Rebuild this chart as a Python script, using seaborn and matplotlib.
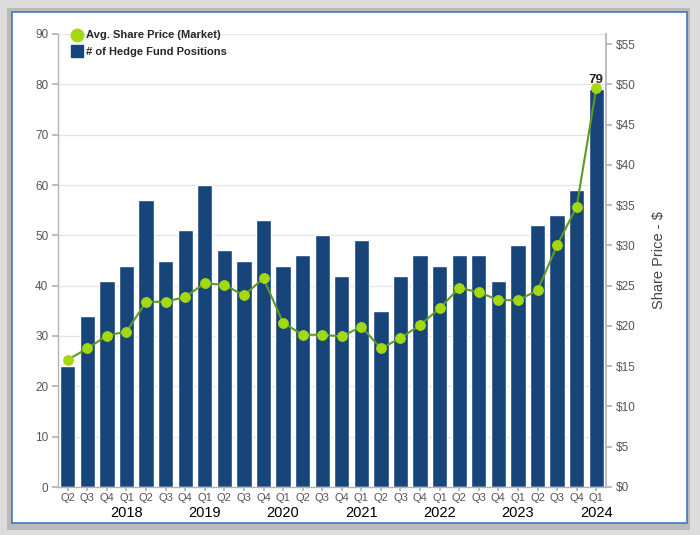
import numpy as np
import pandas as pd
import seaborn as sns
import matplotlib.pyplot as plt
from matplotlib.patches import Rectangle
from matplotlib.lines import Line2D

# data
quarters = ["Q2", "Q3", "Q4",
            "Q1", "Q2", "Q3", "Q4",
            "Q1", "Q2", "Q3", "Q4",
            "Q1", "Q2", "Q3", "Q4",
            "Q1", "Q2", "Q3", "Q4",
            "Q1", "Q2", "Q3", "Q4",
            "Q1", "Q2", "Q3", "Q4",
            "Q1"]
years = ["2018", "2019", "2020", "2021", "2022", "2023", "2024"]
positions = [24, 34, 41, 44, 57, 45, 51, 60, 47, 45, 53, 44, 46, 50,
             42, 49, 35, 42, 46, 44, 46, 46, 41, 48, 52, 54, 59, 79]
share_price = [15.8, 17.2, 18.8, 19.3, 23.0, 23.0, 23.6, 25.3, 25.1, 23.8,
               25.9, 20.4, 18.9, 18.9, 18.7, 19.9, 17.2, 18.5, 20.1, 22.2,
               24.7, 24.2, 23.2, 23.2, 24.4, 30.0, 34.8, 49.5]

BAR_COLOR = "#17457a"
DOT_COLOR = "#a4d80f"
LINE_COLOR = "#5c9a26"
TICK_GREY = "#555555"
SPINE_GREY = "#b4b4b4"

sns.set_theme(style="white")
plt.rcParams["font.family"] = ["Liberation Sans", "DejaVu Sans"]
NARROW = ["Liberation Sans Narrow", "Liberation Sans", "DejaVu Sans"]

df = pd.DataFrame({
    "idx": np.arange(len(positions)),
    "quarter": quarters,
    "positions": positions,
    "price": share_price,
})

fig = plt.figure(figsize=(7, 5.35), dpi=100)
fig.patch.set_facecolor("#dcdcdc")

# white card with blue border and a soft shadow (kept behind the axes)
fig.patches.append(Rectangle((7 / 700, 5 / 535), 683 / 700, 522 / 535,
                             transform=fig.transFigure, facecolor="#9a9a9a",
                             edgecolor="none", alpha=0.5, zorder=-3))
fig.patches.append(Rectangle((12 / 700, 12 / 535), 675 / 700, 511 / 535,
                             transform=fig.transFigure, facecolor="white",
                             edgecolor="#4a74c0", linewidth=1.2, zorder=-2))

ax = fig.add_axes([58 / 700, 1 - 487 / 535, 548 / 700, 453 / 535])
ax.set_facecolor("none")

sns.barplot(data=df, x="idx", y="positions", color=BAR_COLOR, width=0.78,
            saturation=1, ax=ax, zorder=2)
ax.set_ylim(0, 90)
ax.set_xlim(-0.5, len(positions) - 0.5)
ax.set_yticks(range(0, 91, 10))
ax.yaxis.grid(True, color="#e6e6e6", linewidth=1, zorder=0)
ax.set_axisbelow(True)
ax.set_xticks(df["idx"])
ax.set_xticklabels(quarters, fontsize=8, color=TICK_GREY, family=NARROW)
ax.tick_params(axis="y", labelsize=8.5, labelcolor=TICK_GREY, left=True,
               length=4, color=SPINE_GREY, pad=3)
ax.tick_params(axis="x", bottom=True, length=3, color=SPINE_GREY, pad=1)
ax.set_xlabel("")
ax.set_ylabel("")
for side in ["top", "right"]:
    ax.spines[side].set_visible(False)
for side in ["left", "bottom"]:
    ax.spines[side].set_color(SPINE_GREY)
    ax.spines[side].set_linewidth(1)

# year labels under each Q1
q1_idx = [i for i, q in enumerate(quarters) if q == "Q1"]
for i, yr in zip(q1_idx, years):
    ax.text(i, -0.042, yr, transform=ax.get_xaxis_transform(), ha="center",
            va="top", fontsize=10.5, color="black", family=NARROW)

ax2 = ax.twinx()
sns.lineplot(data=df, x="idx", y="price", color=LINE_COLOR, linewidth=1.5,
             marker="o", markersize=7, markerfacecolor=DOT_COLOR,
             markeredgecolor=DOT_COLOR, ax=ax2, zorder=3)
ax2.set_ylim(0, 56.25)
ax2.set_yticks(range(0, 56, 5))
ax2.set_yticklabels([f"${v}" for v in range(0, 56, 5)])
ax2.tick_params(axis="y", labelsize=8.5, labelcolor=TICK_GREY, right=True,
                length=4, color=SPINE_GREY, pad=3)
ax2.set_ylabel("Share Price - $", fontsize=10.5, color="#444444", labelpad=12)
ax2.set_xlabel("")
for side in ["top", "left", "bottom"]:
    ax2.spines[side].set_visible(False)
ax2.spines["right"].set_color(SPINE_GREY)

# value label on the last bar
last = len(positions) - 1
ax.text(last, positions[last] + 0.6, str(positions[last]), ha="center",
        va="bottom", fontsize=9.5, fontweight="bold", color="#222222",
        zorder=5)

handles = [
    Line2D([], [], marker="o", linestyle="none", markersize=9,
           markerfacecolor=DOT_COLOR, markeredgecolor=DOT_COLOR),
    Line2D([], [], marker="s", linestyle="none", markersize=8,
           markerfacecolor=BAR_COLOR, markeredgecolor=BAR_COLOR),
]
leg = ax.legend(handles, ["Avg. Share Price (Market)", "# of Hedge Fund Positions"],
                loc="upper left", bbox_to_anchor=(0.008, 1.03), frameon=False,
                handlelength=0.8, handletextpad=0.4, labelspacing=0.6,
                prop={"weight": "bold", "size": 8})
leg.set_zorder(6)

fig.savefig("out.png", dpi=100, facecolor=fig.get_facecolor())
